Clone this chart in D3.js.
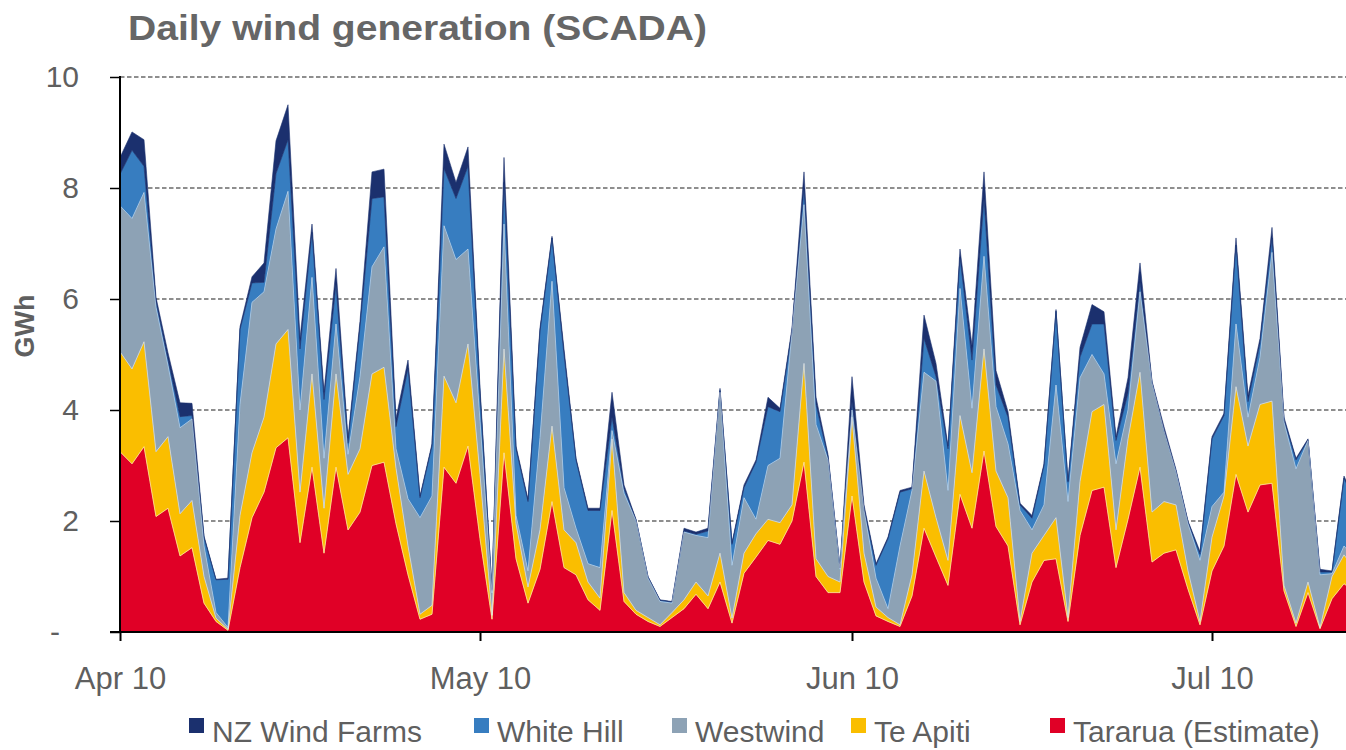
<!DOCTYPE html>
<html><head><meta charset="utf-8">
<script src="https://cdn.jsdelivr.net/npm/d3@7"></script>
<style>
body{margin:0;background:#fff;}
svg{display:block;font-family:"Liberation Sans",Arial,sans-serif;}
</style>
</head><body>
<svg id="chart" width="1346" height="750"></svg>
<script>
// ---- data ----
const startDate = new Date(2010, 3, 10);
const dayCount = 104;
const dates = d3.timeDay.range(startDate, d3.timeDay.offset(startDate, dayCount));

const tararua = [3.25,3.03,3.34,2.08,2.23,1.37,1.52,0.52,0.19,0.03,
  1.16,2.06,2.52,3.32,3.50,1.61,2.97,1.42,2.97,1.84,
  2.16,3.00,3.06,1.95,1.03,0.23,0.32,2.97,2.68,3.35,
  1.68,0.23,3.23,1.32,0.52,1.13,2.35,1.16,1.03,0.58,
  0.39,2.19,0.55,0.32,0.19,0.10,0.26,0.42,0.68,0.42,
  0.90,0.16,1.06,1.35,1.65,1.58,2.00,3.06,1.00,0.71,
  0.71,2.45,0.90,0.29,0.19,0.10,0.65,1.87,1.35,0.84,
  2.48,1.87,3.26,1.90,1.55,0.13,0.90,1.29,1.32,0.19,
  1.74,2.55,2.61,1.16,2.03,2.97,1.26,1.42,1.48,0.77,
  0.13,1.10,1.55,2.84,2.16,2.65,2.68,0.74,0.10,0.71,
  0.06,0.60,0.87,0.70];
const teApiti = [1.80,1.71,1.89,1.17,1.29,0.76,0.85,0.48,0.06,0.02,
  0.94,1.17,1.35,1.87,1.95,0.91,1.68,0.81,1.68,1.00,
  1.14,1.65,1.71,1.00,0.52,0.09,0.16,1.64,1.45,1.84,
  1.16,0.07,1.87,0.63,0.29,0.71,1.36,0.68,0.58,0.32,
  0.22,1.29,0.16,0.07,0.07,0.03,0.09,0.16,0.22,0.23,
  0.52,0.09,0.36,0.42,0.38,0.39,0.29,1.78,0.32,0.29,
  0.19,1.42,0.52,0.16,0.07,0.03,0.38,1.03,0.71,0.45,
  1.42,1.00,1.84,1.00,0.87,0.06,0.52,0.45,0.74,0.07,
  0.97,1.42,1.49,0.68,1.45,1.71,0.90,0.93,0.81,0.33,
  0.06,0.61,0.90,1.58,1.19,1.45,1.48,0.10,0.06,0.19,
  0.02,0.40,0.52,0.40];
const westwind = [2.63,2.71,2.69,2.60,1.28,1.55,1.47,0.55,0.10,0.03,
  2.00,2.71,2.26,2.07,2.49,1.48,1.74,0.90,0.90,0.36,
  1.30,1.93,2.17,0.35,0.85,1.74,1.97,2.71,2.58,1.71,
  0.96,0.40,2.25,0.15,0.29,1.66,2.61,0.76,0.26,0.33,
  0.55,0.15,1.79,1.61,0.71,0.42,0.17,1.22,0.84,1.05,
  2.90,0.95,1.00,0.26,0.97,1.16,3.11,2.86,2.42,2.10,
  0.23,0.13,0.77,0.52,0.16,1.42,1.52,1.78,2.46,1.26,
  2.29,1.16,1.67,1.16,0.97,2.00,0.42,0.55,2.39,2.09,
  1.87,1.03,0.55,1.19,0.52,1.45,2.32,1.27,0.59,0.85,
  1.10,0.55,0.07,1.13,0.52,0.85,2.68,2.94,2.78,2.55,
  0.95,0.05,0.16,0.20];
const whiteHill = [0.57,1.23,0.47,0.10,0.10,0.20,0.06,0.15,0.59,0.87,
  1.35,0.35,0.17,1.00,0.93,1.10,0.81,1.06,0.71,0.20,
  0.90,1.23,0.90,0.40,2.35,0.36,0.90,1.03,1.10,1.49,
  0.50,0.05,0.75,1.20,1.25,1.92,0.78,2.40,1.23,0.96,
  1.03,0.24,0.08,0.02,0.02,0.02,0.02,0.02,0.02,0.12,
  0.03,0.38,0.18,1.03,1.06,0.84,0.02,0.30,0.36,0.05,
  0.02,0.15,0.03,0.23,1.26,0.97,0.03,0.61,0.08,0.75,
  0.56,0.87,1.04,0.39,0.48,0.10,0.21,0.71,1.33,0.35,
  0.37,0.55,0.90,0.42,0.30,0.17,0.02,0.01,0.02,0.03,
  0.11,1.22,1.38,1.42,0.28,0.25,0.26,0.04,0.16,0.01,
  0.05,0.03,1.22,1.00];
const nzWindFarms = [0.30,0.33,0.48,0.08,0.13,0.25,0.22,0.03,0.01,0.02,
  0.05,0.11,0.35,0.59,0.63,0.19,0.15,0.13,0.29,0.10,
  0.10,0.48,0.50,0.15,0.15,0.03,0.04,0.44,0.29,0.35,
  0.10,0.02,0.45,0.05,0.04,0.06,0.03,0.10,0.03,0.04,
  0.04,0.45,0.07,0.01,0.01,0.01,0.01,0.05,0.04,0.05,
  0.04,0.03,0.05,0.04,0.17,0.06,0.06,0.29,0.13,0.05,
  0.01,0.45,0.07,0.03,0.03,0.03,0.03,0.42,0.24,0.05,
  0.15,0.26,0.48,0.26,0.10,0.03,0.05,0.03,0.03,0.02,
  0.18,0.35,0.22,0.07,0.28,0.35,0.02,0.07,0.03,0.02,
  0.05,0.04,0.04,0.13,0.11,0.09,0.19,0.05,0.03,0.02,
  0.05,0.02,0.04,0.03];

const seriesNames = ["Tararua (Estimate)", "Te Apiti", "Westwind", "White Hill", "NZ Wind Farms"];
const seriesValues = [tararua, teApiti, westwind, whiteHill, nzWindFarms];
const legendOrder = ["NZ Wind Farms", "White Hill", "Westwind", "Te Apiti", "Tararua (Estimate)"];
const yTicks = [0, 2, 4, 6, 8, 10];
const xTickDates = [new Date(2010,3,10), new Date(2010,4,10), new Date(2010,5,10), new Date(2010,6,10)];
const xTickLabels = ["Apr 10", "May 10", "Jun 10", "Jul 10"];
const titleText = "Daily wind generation (SCADA)";
const yTitle = "GWh";

// ---- styles ----
const colors = {
  "Tararua (Estimate)": "#E00026",
  "Te Apiti": "#FABE00",
  "Westwind": "#8DA2B5",
  "White Hill": "#377DC0",
  "NZ Wind Farms": "#1B306E"
};
const textGray = "#5f5f5f";

const svg = d3.select("#chart");
const W = 1346, H = 750;
const x = d3.scaleTime()
  .domain([startDate, d3.timeDay.offset(startDate, dayCount - 1)])
  .range([120, 120 + 12 * (dayCount - 1)]);
const y = d3.scaleLinear().domain([0, 10]).range([632, 77]);

// table for stack
const table = dates.map((d, i) => {
  const row = { date: d };
  seriesNames.forEach((n, k) => row[n] = seriesValues[k][i]);
  return row;
});
const stacked = d3.stack().keys(seriesNames)(table);

// gridlines
svg.append("g").selectAll("line").data(yTicks.filter(t => t > 0)).join("line")
  .attr("x1", 120).attr("x2", W)
  .attr("y1", d => y(d)).attr("y2", d => y(d))
  .attr("stroke", "#6a6a6a").attr("stroke-width", 1.4)
  .attr("stroke-dasharray", "4.5,2.5");

// areas
svg.append("clipPath").attr("id", "plotclip")
  .append("rect").attr("x", 120).attr("y", 0).attr("width", W - 120).attr("height", 632);

const area = d3.area()
  .x(d => x(d.data.date))
  .y0(d => y(d[0]))
  .y1(d => y(d[1]));
const line = d3.line()
  .x(d => x(d.data.date))
  .y(d => y(d[1]));

const gA = svg.append("g").attr("clip-path", "url(#plotclip)");
gA.selectAll("path.a").data(stacked).join("path")
  .attr("class", "a")
  .attr("d", area)
  .attr("fill", d => colors[d.key])
  .attr("stroke", d => colors[d.key])
  .attr("stroke-width", 0.6);
gA.selectAll("path.l").data(stacked.slice(0, 3)).join("path")
  .attr("class", "l")
  .attr("d", line)
  .attr("fill", "none")
  .attr("stroke", "#ffffff")
  .attr("stroke-width", 0.7)
  .attr("stroke-opacity", 0.7);

// y axis
const yAxis = d3.axisLeft(y).tickValues(yTicks).tickSize(10).tickPadding(31)
  .tickFormat(d => d === 0 ? "-" : d3.format("d")(d));
const gy = svg.append("g").attr("transform", "translate(120,0)").call(yAxis);
gy.select(".domain").attr("stroke", "#000").attr("stroke-width", 2).attr("d", "M0,76V633");
gy.selectAll(".tick line").attr("stroke", "#000").attr("stroke-width", 1.5);
gy.selectAll(".tick text").attr("fill", textGray).attr("font-size", 30)
  .attr("font-family", "Liberation Sans, Arial, sans-serif")
  .attr("dx", d => d === 0 ? -19 : 0);

// x axis
const xAxis = d3.axisBottom(x).tickValues(xTickDates).tickSize(9).tickPadding(26)
  .tickFormat((d, i) => xTickLabels[i]);
const gx = svg.append("g").attr("transform", "translate(0,632)").call(xAxis);
gx.select(".domain").attr("stroke", "#000").attr("stroke-width", 2).attr("d", "M110,0H" + W);
gx.selectAll(".tick line").attr("stroke", "#000").attr("stroke-width", 2);
gx.selectAll(".tick text").attr("fill", textGray).attr("font-size", 31)
  .attr("font-family", "Liberation Sans, Arial, sans-serif");

// title
svg.append("text").attr("x", 128).attr("y", 40)
  .attr("font-size", 35).attr("font-weight", "bold").attr("fill", "#666666")
  .attr("textLength", 579).attr("lengthAdjust", "spacingAndGlyphs")
  .text(titleText);

// y title
svg.append("text").attr("transform", "translate(34,326) rotate(-90)")
  .attr("text-anchor", "middle").attr("font-size", 27).attr("font-weight", "bold")
  .attr("fill", textGray).text(yTitle);

// legend
const legendX = [189, 474, 672, 851, 1050];
const lg = svg.append("g");
legendOrder.forEach((n, i) => {
  const g = lg.append("g").attr("transform", `translate(${legendX[i]},0)`);
  g.append("rect").attr("x", 0).attr("y", 718).attr("width", 15).attr("height", 15)
    .attr("fill", colors[n]);
  g.append("text").attr("x", 23).attr("y", 742).attr("font-size", 30)
    .attr("fill", textGray).text(n);
});
</script>
</body></html>
